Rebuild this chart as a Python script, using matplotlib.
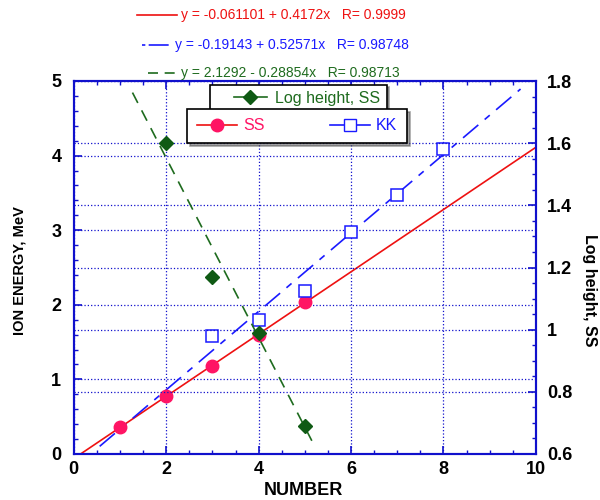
import numpy as np
import matplotlib.pyplot as plt
from matplotlib.lines import Line2D
from matplotlib.ticker import MultipleLocator

plt.rcParams['font.family'] = ['Liberation Sans', 'DejaVu Sans']

# data
number_ss = [1, 2, 3, 4, 5]
energy_ss = [0.36, 0.78, 1.18, 1.60, 2.04]
number_kk = [3, 4, 5, 6, 7, 8]
energy_kk = [1.58, 1.79, 2.18, 2.98, 3.47, 4.09]
number_log = [2, 3, 4, 5]
log_height = [1.60, 1.17, 0.99, 0.69]

# fit lines (intercept, slope) and drawn x-range
fit_ss = (-0.061101, 0.4172)
fit_kk = (-0.19143, 0.52571)
fit_log = (2.1292, -0.28854)
range_ss = (0.15, 10)
range_kk = (0.56, 9.67)
range_log = (1.27, 5.2)

fit_texts = ['y = -0.061101 + 0.4172x   R= 0.9999',
             'y = -0.19143 + 0.52571x   R= 0.98748',
             'y = 2.1292 - 0.28854x   R= 0.98713']

red = '#ee1111'
pink = '#ff1464'
blue = '#1a1aff'
green = '#1e6b1e'
dgreen = '#0f5a14'
axcol = '#1010cc'

fig = plt.figure(figsize=(6, 5), dpi=100)
ax = fig.add_axes([0.123, 0.092, 0.770, 0.746])
ax2 = ax.twinx()

ax.set_xlim(0, 10)
ax.set_ylim(0, 5)
ax2.set_ylim(0.6, 1.8)

# grid
ax.grid(True, which='major', color=axcol, linestyle=':', linewidth=0.9)
ax2.grid(True, which='major', axis='y', color=axcol, linestyle=':', linewidth=0.9)

# fit lines
xs = np.linspace(*range_ss, 50)
ax.plot(xs, fit_ss[0] + fit_ss[1] * xs, color=red, lw=1.2, zorder=3)
xk = np.linspace(*range_kk, 50)
ax.plot(xk, fit_kk[0] + fit_kk[1] * xk, color=blue, lw=1.2,
        dashes=(12, 5, 4, 5), zorder=3)
xl = np.linspace(*range_log, 50)
ax2.plot(xl, fit_log[0] + fit_log[1] * xl, color=green, lw=1.2,
         dashes=(7, 5), zorder=3)

# points
ax.plot(number_ss, energy_ss, 'o', color=pink, ms=9, zorder=4)
ax.plot(number_kk, energy_kk, 's', mfc='white', mec=blue, ms=8.5, mew=1.1, zorder=4)
ax2.plot(number_log, log_height, 'D', color=dgreen, ms=7, zorder=4)

# ticks and spines
for a in (ax, ax2):
    for s in a.spines.values():
        s.set_color(axcol)
        s.set_linewidth(1.5)
ax.xaxis.set_major_locator(MultipleLocator(2))
ax.xaxis.set_minor_locator(MultipleLocator(0.5))
ax.yaxis.set_major_locator(MultipleLocator(1))
ax.yaxis.set_minor_locator(MultipleLocator(0.2))
ax2.yaxis.set_minor_locator(MultipleLocator(0.05))
ax2.set_yticks([0.6, 0.8, 1.0, 1.2, 1.4, 1.6, 1.8])
ax2.set_yticklabels(['0.6', '0.8', '1', '1.2', '1.4', '1.6', '1.8'])
ax.tick_params(axis='both', which='both', direction='in', color=axcol,
               top=True, labelsize=13)
ax.tick_params(which='major', length=6, width=1.2)
ax.tick_params(which='minor', length=3, width=1)
ax.tick_params(axis='x', which='major', pad=5)
ax.tick_params(axis='y', which='major', pad=9)
ax.tick_params(axis='y', right=False, which='both')
ax2.tick_params(axis='y', which='both', direction='in', color=axcol, labelsize=13)
ax2.tick_params(which='major', length=6, width=1.2, pad=8)
ax2.tick_params(which='minor', length=3, width=1)
for lab in ax.get_xticklabels() + ax.get_yticklabels() + ax2.get_yticklabels():
    lab.set_fontweight('bold')

ax.set_xlabel('NUMBER', fontsize=13, fontweight='bold', va='center')
ax.xaxis.set_label_coords(0.498, -0.098)
ax.set_ylabel('ION ENERGY, MeV', fontsize=10.5, fontweight='bold', va='center')
ax.yaxis.set_label_coords(-0.117, 0.493)
ax2.set_ylabel('Log height, SS', fontsize=11.5, fontweight='bold', rotation=270,
               va='center')
ax2.yaxis.set_label_coords(1.117, 0.44)

# legends
h_log = Line2D([], [], color=green, marker='D', mfc=dgreen, mec=dgreen, ms=7, lw=1.2)
h_ss = Line2D([], [], color=red, marker='o', mfc=pink, mec=pink, ms=9, lw=1.2)
h_kk = Line2D([], [], color=blue, marker='s', mfc='white', mec=blue, ms=8, lw=1.2)
h_none = Line2D([], [], color='none')

leg1 = ax2.legend([h_none, h_log], ['', 'Log height, SS'], loc='center', ncol=2,
                  bbox_to_anchor=(0.294, 0.917, 0.383, 0.072), mode='expand',
                  fancybox=False, shadow=True, edgecolor='black',
                  framealpha=1, fontsize=11.5, labelcolor=green,
                  handlelength=2.1, handletextpad=0.5, borderaxespad=0)
leg1.get_frame().set_linewidth(1.2)
ax2.add_artist(leg1)
leg2 = ax2.legend([h_ss, h_kk], ['SS', 'KK'], loc='center', ncol=2,
                  bbox_to_anchor=(0.245, 0.845, 0.476, 0.069), mode='expand',
                  fancybox=False, shadow=True, edgecolor='black',
                  framealpha=1, fontsize=11.5, labelcolor=[pink, blue],
                  handlelength=2.5, handletextpad=0.4, borderpad=0.6,
                  borderaxespad=0)
leg2.get_frame().set_linewidth(1.2)

# header with fit equations
header = [(red, '-', 0.228, 0.295, 0.970, fit_texts[0]),
          (blue, (0, (2, 2, 10, 0)), 0.237, 0.285, 0.910, fit_texts[1]),
          (green, (0, (6, 4)), 0.247, 0.295, 0.854, fit_texts[2])]
for col, ls, x0, x1, yy, txt in header:
    fig.add_artist(Line2D([x0, x1], [yy, yy], color=col, lw=1.2, linestyle=ls,
                          transform=fig.transFigure))
    fig.text(x1 + 0.006, yy, txt, color=col, fontsize=10, va='center', ha='left')

fig.savefig('out.png', dpi=100)
